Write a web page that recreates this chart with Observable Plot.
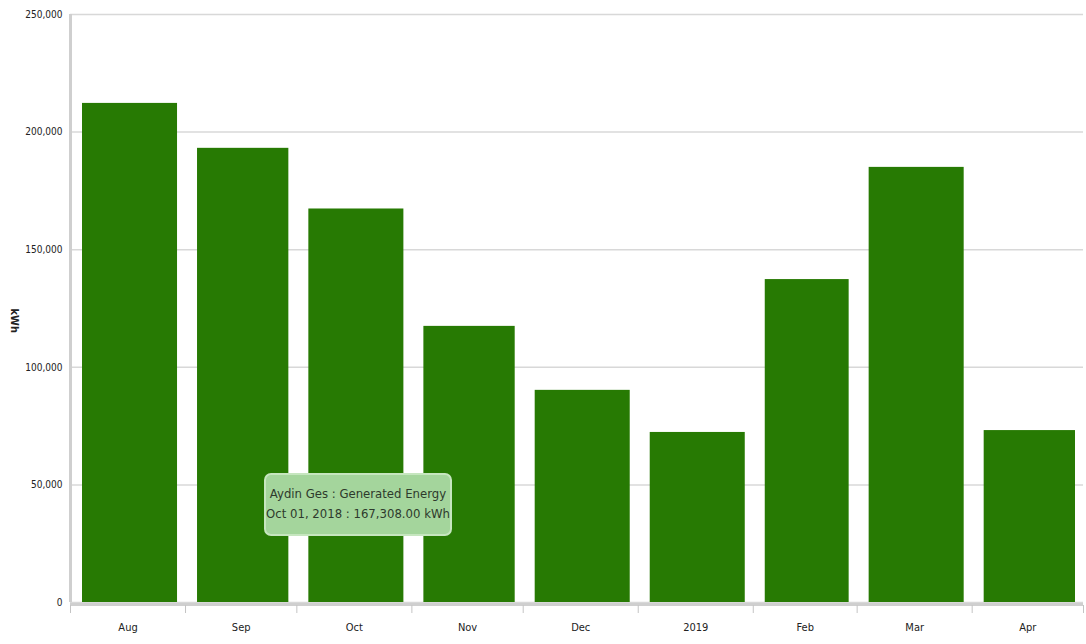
<!DOCTYPE html>
<html>
<head>
<meta charset="utf-8">
<script src="https://cdn.jsdelivr.net/npm/d3@7"></script>
<script src="https://cdn.jsdelivr.net/npm/@observablehq/plot@0.6"></script>
<style>
  html, body { margin: 0; padding: 0; background: #fff; }
  #chart { position: relative; width: 1086px; height: 644px; }
  #tip {
    position: absolute; left: 264px; top: 473px; width: 188px; height: 63px;
    box-sizing: border-box; background: #a4d59c; border: 2px solid #c6e6bf;
    border-radius: 7px; color: #2e3a2c; white-space: nowrap;
    font-family: "DejaVu Sans Condensed", "Liberation Sans", Arial, sans-serif;
    font-stretch: condensed;
    font-size: 13px; line-height: 20px; text-align: center; padding-top: 9px;
  }
</style>
</head>
<body>
<div id="chart"><div id="tip"></div></div>
<script>
// Monthly generated energy, Aydin Ges (kWh), one bar per calendar month
const monthStarts = ["2018-08-01", "2018-09-01", "2018-10-01", "2018-11-01", "2018-12-01",
                     "2019-01-01", "2019-02-01", "2019-03-01", "2019-04-01", "2019-05-01"];
const monthLabels = ["Aug", "Sep", "Oct", "Nov", "Dec", "2019", "Feb", "Mar", "Apr"];
const energyKWh = [212200, 193100, 167308, 117400, 90200, 72300, 137300, 185000, 73100];
const yTicks = [0, 50000, 100000, 150000, 200000, 250000];
const tipLines = ["Aydin Ges : Generated Energy", "Oct 01, 2018 : 167,308.00 kWh"];

const starts = monthStarts.map(d => new Date(d + "T00:00:00Z"));
const bars = monthLabels.map((label, i) => ({
  label,
  start: starts[i],
  end: starts[i + 1],
  mid: new Date((+starts[i] + +starts[i + 1]) / 2),
  value: energyKWh[i]
}));

const font = "'DejaVu Sans Condensed', 'Liberation Sans', Arial, sans-serif";
const green = "#277a03";

const chart = Plot.plot({
  width: 1086,
  height: 644,
  marginLeft: 70,
  marginRight: 3,
  marginTop: 14,
  marginBottom: 42,
  style: { fontFamily: font, fontSize: "10px", color: "#222", background: "#fff", fontStretch: "condensed" },
  x: { type: "utc", domain: [starts[0], starts[starts.length - 1]] },
  y: { domain: [0, 250000] },
  marks: [
    Plot.gridY(yTicks, { stroke: "#d8d8d8", strokeOpacity: 1, strokeWidth: 1.5 }),
    Plot.axisY(yTicks, { tickSize: 0, tickPadding: 8, tickFormat: d3.format(","), label: null, fontSize: 10 }),
    Plot.ruleX([starts[0]], { stroke: "#cfcfcf", strokeWidth: 3 }),
    Plot.rectY(bars, { x1: "start", x2: "end", y: "value", fill: green, insetLeft: 12, insetRight: 8 }),
    Plot.ruleY([0], { stroke: "#cfcfcf", strokeWidth: 3, dy: 2 }),
    Plot.axisX(starts, { tickSize: 8, tickFormat: () => "", stroke: "#c4c4c4", dy: 3 }),
    Plot.text(bars, { x: "mid", frameAnchor: "bottom", text: "label", dy: 28, fontSize: 11,
                      fontWeight: d => d.label === "2019" ? "bold" : "normal" }),
    Plot.text(["kWh"], { frameAnchor: "left", rotate: 90, dx: -56, fontWeight: "bold", fontSize: 11 })
  ]
});

const container = document.getElementById("chart");
container.insertBefore(chart, container.firstChild);
document.getElementById("tip").innerHTML = tipLines.join("<br>");
</script>
</body>
</html>
